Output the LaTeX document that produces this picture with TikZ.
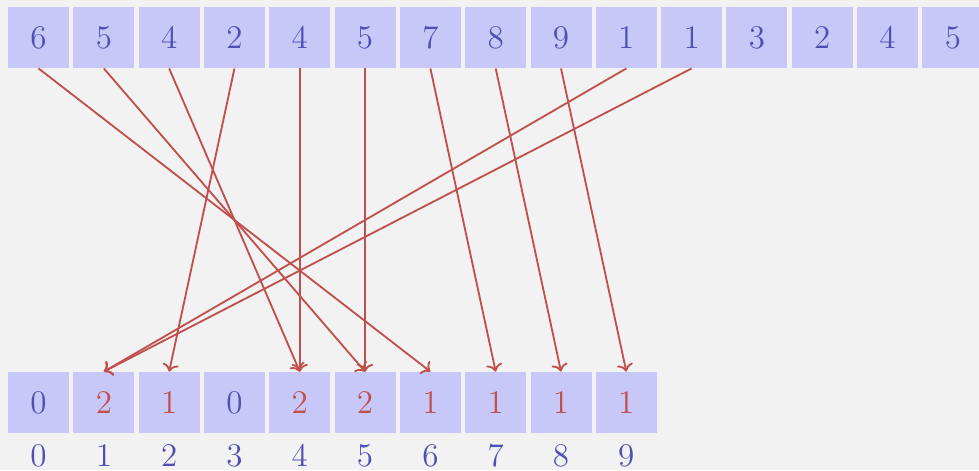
\documentclass[tikz,border=0pt]{standalone}
\usetikzlibrary{arrows.meta}
\definecolor{bgcol}{HTML}{F2F2F2}
\definecolor{cellfill}{HTML}{C8C8F8}
\definecolor{numblue}{HTML}{5050B4}
\definecolor{numred}{HTML}{C0504D}
\begin{document}
\begin{tikzpicture}[>=To,
  cell/.style={fill=cellfill,minimum size=.934cm,inner sep=0pt,font=\Large},
  link/.style={->,numred,thick}]
\useasboundingbox[fill=bgcol] (-.59,-6.623) rectangle (14.40,.574);
% input row
\foreach \v [count=\i from 0] in {6,5,4,2,4,5,7,8,9,1,1,3,2,4,5}
  \node[cell,text=numblue] (t\i) at (\i,0) {$\v$};
% count row with indices
\foreach \v/\c [count=\i from 0] in {0/numblue,2/numred,1/numred,0/numblue,2/numred,2/numred,1/numred,1/numred,1/numred,1/numred}{
  \node[cell,text=\c] (b\i) at (\i,-5.59) {$\v$};
  \node[font=\Large,text=numblue,inner sep=0pt] (k\i) at (\i,-6.41) {$\i$};
}
% arrows from input to counts
\foreach \s/\t in {0/6,1/5,2/4,3/2,4/4,5/5,6/7,7/8,8/9,9/1,10/1}
  \draw[link] (t\s.south) -- (b\t.north);
\end{tikzpicture}
\end{document}
